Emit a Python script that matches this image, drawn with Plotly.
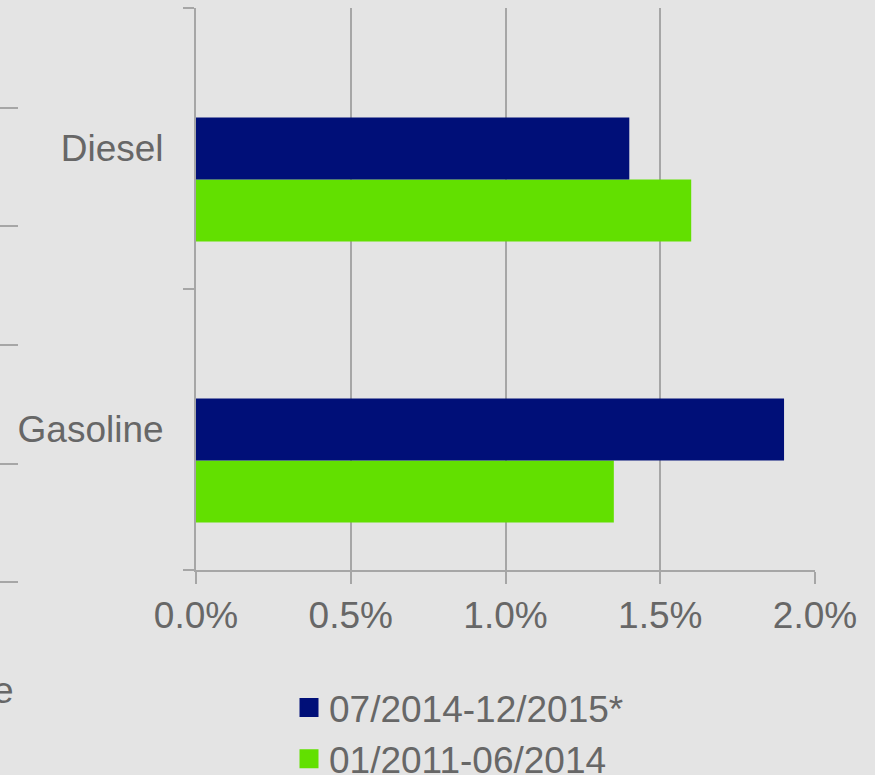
import plotly.graph_objects as go

categories = ["Gasoline", "Diesel"]
series_names = ["07/2014-12/2015*", "01/2011-06/2014"]
recent_values = [0.019, 0.014]      # 07/2014-12/2015*
earlier_values = [0.0135, 0.016]    # 01/2011-06/2014
x_ticks = [0.0, 0.005, 0.01, 0.015, 0.02]
x_tick_labels = ["0.0%", "0.5%", "1.0%", "1.5%", "2.0%"]

BLUE = "#000F78"
GREEN = "#62E000"
GRID = "#A6A6A6"
TEXT = "#676767"
BG = "#E4E4E4"
FONT = "Liberation Sans, Arial, sans-serif"
FS = 37

W, H = 875, 775
ML, MR, MT, MB = 196, 60, 8, 205
PW, PH = W - ML - MR, H - MT - MB

def px_x(px):
    return (px - ML) / PW

def px_y(py):
    return (H - MB - py) / PH

# cluster of three slots (first slot empty), each slot 0.2206 of a category
SLOT = 0.2206
fig = go.Figure()
fig.add_trace(go.Bar(y=categories, x=earlier_values, orientation="h",
                     width=SLOT, offset=-1.5 * SLOT,
                     marker=dict(color=GREEN, line=dict(width=0)),
                     name=series_names[1], showlegend=False))
fig.add_trace(go.Bar(y=categories, x=recent_values, orientation="h",
                     width=SLOT, offset=-0.5 * SLOT,
                     marker=dict(color=BLUE, line=dict(width=0)),
                     name=series_names[0], showlegend=False))
fig.add_trace(go.Scatter(x=[None], y=[None], mode="markers", name=series_names[0],
                         marker=dict(symbol="square", size=16, color=BLUE,
                                     line=dict(color=BLUE, width=3))))
fig.add_trace(go.Scatter(x=[None], y=[None], mode="markers", name=series_names[1],
                         marker=dict(symbol="square", size=16, color=GREEN,
                                     line=dict(color=GREEN, width=3))))

shapes = []
for py in [108, 226, 345, 464, 582]:
    shapes.append(dict(type="line", xref="paper", yref="paper",
                       x0=px_x(0), x1=px_x(18), y0=px_y(py), y1=px_y(py),
                       line=dict(color=GRID, width=2)))

fig.update_layout(
    width=W, height=H,
    margin=dict(l=ML, r=MR, t=MT, b=MB, pad=0, autoexpand=False),
    paper_bgcolor=BG, plot_bgcolor=BG,
    font=dict(family=FONT, size=FS, color=TEXT),
    barmode="overlay",
    showlegend=True,
    legend=dict(x=px_x(289), y=px_y(677), xanchor="left", yanchor="top",
                bgcolor="rgba(0,0,0,0)", font=dict(size=FS, color=TEXT),
                itemsizing="trace", tracegroupgap=0),
    shapes=shapes,
    annotations=[dict(text="e", xref="paper", yref="paper", x=px_x(15.5), y=px_y(690),
                      xanchor="right", yanchor="middle", showarrow=False,
                      font=dict(size=FS, color=TEXT))],
    xaxis=dict(range=[0, 0.02], tickvals=x_ticks, ticktext=x_tick_labels,
               showgrid=True, gridcolor=GRID, gridwidth=2,
               showline=True, linecolor=GRID, linewidth=2,
               ticks="outside", ticklen=12, tickwidth=2, tickcolor=GRID,
               zeroline=False, fixedrange=True),
    yaxis=dict(categoryorder="array", categoryarray=categories,
               range=[-0.5, 1.5], showgrid=False,
               showline=True, linecolor=GRID, linewidth=2,
               ticks="outside", tickson="boundaries", ticklen=11, tickwidth=2,
               tickcolor=GRID, ticklabelstandoff=23, zeroline=False),
)

fig.write_html("out.html")
